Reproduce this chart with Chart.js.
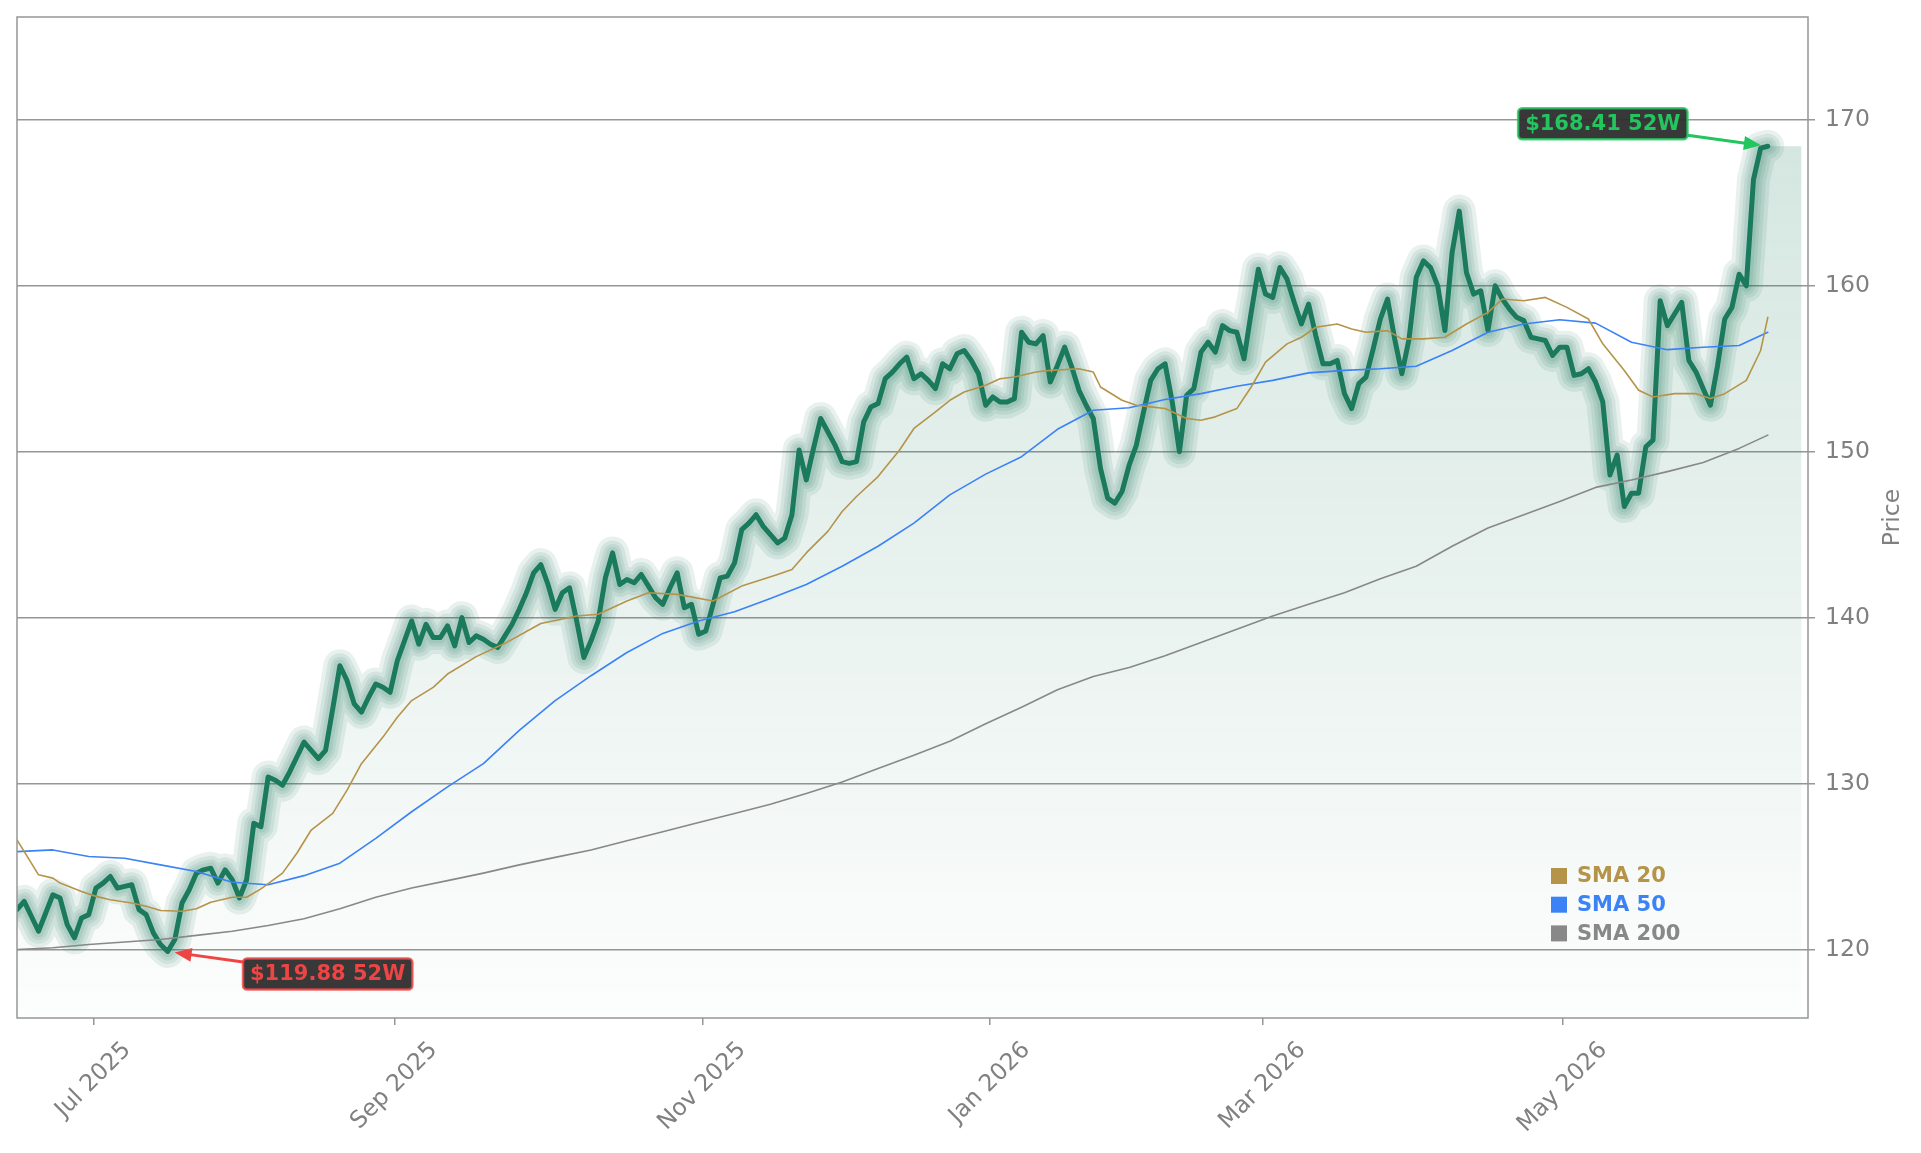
<!DOCTYPE html>
<html>
<head>
<meta charset="utf-8">
<script src="https://cdn.jsdelivr.net/npm/chart.js@4/dist/chart.umd.min.js"></script>
<style>
  html, body { margin: 0; padding: 0; background: #fff; }
  #wrap { width: 1921px; height: 1153px; position: relative; }
</style>
</head>
<body>
<div id="wrap"><canvas id="priceChart"></canvas></div>
<script>
// daily closes, one per trading day
const priceClose = [
    122.4, 122.9, 122.0, 121.1, 122.2, 123.3, 123.1, 121.5, 120.7, 121.9,
    122.1, 123.7, 124.0, 124.4, 123.7, 123.8, 123.9, 122.4, 122.1, 121.0,
    120.3, 119.88, 120.6, 122.8, 123.6, 124.6, 124.8, 124.9, 124.0, 124.8,
    124.2, 123.1, 124.2, 127.6, 127.4, 130.4, 130.2, 129.9, 130.7, 131.6,
    132.5, 132.0, 131.5, 132.0, 134.5, 137.1, 136.2, 134.8, 134.3, 135.2,
    136.0, 135.8, 135.5, 137.4, 138.6, 139.8, 138.4, 139.6, 138.8, 138.8,
    139.5, 138.3, 140.0, 138.5, 138.9, 138.7, 138.4, 138.2, 138.9, 139.6,
    140.5, 141.5, 142.7, 143.2, 142.0, 140.5, 141.5, 141.8, 139.8, 137.6,
    138.6, 139.8, 142.4, 143.9, 142.0, 142.3, 142.1, 142.6, 141.9, 141.2,
    140.8, 141.8, 142.7, 140.6, 140.8, 139.0, 139.2, 140.8, 142.4, 142.5,
    143.3, 145.3, 145.7, 146.2, 145.5, 145.0, 144.5, 144.8, 146.2, 150.1,
    148.3, 150.2, 152.0, 151.2, 150.4, 149.4, 149.3, 149.4, 151.8, 152.7,
    152.9, 154.4, 154.8, 155.3, 155.7, 154.4, 154.7, 154.3, 153.8, 155.3,
    155.0, 155.9, 156.1, 155.5, 154.7, 152.8, 153.3, 153.0, 153.0, 153.2,
    157.2, 156.6, 156.5, 157.0, 154.2, 155.2, 156.3, 155.1, 153.7, 152.8,
    152.0, 149.0, 147.2, 146.9, 147.6, 149.2, 150.4, 152.4, 154.3, 155.0,
    155.3, 153.0, 150.0, 153.4, 153.8, 156.0, 156.6, 156.0, 157.6, 157.3,
    157.2, 155.6, 158.4, 161.0, 159.5, 159.3, 161.1, 160.4, 159.0, 157.7,
    158.9, 157.0, 155.3, 155.3, 155.5, 153.5, 152.6, 154.1, 154.5, 156.2,
    158.0, 159.2, 156.8, 154.7, 156.8, 160.5, 161.5, 161.1, 160.0, 157.3,
    162.0, 164.5, 160.8, 159.5, 159.7, 157.3, 160.0, 159.2, 158.6, 158.1,
    157.9, 156.9, 156.8, 156.7, 155.8, 156.3, 156.3, 154.6, 154.7, 155.0,
    154.2, 153.0, 148.6, 149.8, 146.7, 147.5, 147.5, 150.3, 150.7, 159.1,
    157.6, 158.3, 159.0, 155.5, 154.8, 153.8, 152.8, 155.2, 158.0, 158.7,
    160.7, 160.0, 166.4, 168.3, 168.41
];

// SMA 20 read at the trading days where its bends are
const sma20Idx = [
    0, 2, 3, 5, 6, 9, 11, 13, 16, 18, 20, 23, 25, 27, 30, 32, 34, 37, 39, 41,
    44, 46, 48, 51, 53, 55, 58, 60, 64, 68, 73, 78, 81, 85, 88, 92, 97, 101, 106, 108,
    110, 113, 115, 117, 120, 123, 125, 128, 130, 132, 135, 137, 139, 142, 144, 148, 150, 151, 154, 156,
    158, 160, 163, 165, 167, 170, 172, 174, 177, 179, 181, 184, 186, 188, 191, 193, 196, 199, 202, 205,
    207, 210, 213, 216, 219, 221, 224, 226, 228, 231, 234, 236, 238, 241, 243, 244
];
const sma20 = [
    126.6, 125.2, 124.5, 124.3, 124.0, 123.5, 123.2, 123.0, 122.8, 122.6, 122.35, 122.3, 122.45, 122.85, 123.15, 123.15, 123.65, 124.6, 125.8, 127.2,
    128.2, 129.6, 131.2, 132.8, 134.0, 135.0, 135.8, 136.6, 137.65, 138.45, 139.65, 140.1, 140.2, 141.0, 141.5, 141.4, 141.0, 141.9, 142.6, 142.9,
    143.9, 145.2, 146.4, 147.3, 148.5, 150.1, 151.4, 152.4, 153.1, 153.6, 154.0, 154.4, 154.5, 154.8, 154.9, 155.0, 154.8, 153.9, 153.1, 152.8,
    152.7, 152.6, 152.0, 151.9, 152.1, 152.6, 153.9, 155.4, 156.5, 156.9, 157.5, 157.7, 157.4, 157.2, 157.3, 156.8, 156.8, 156.9, 157.7, 158.4,
    159.2, 159.1, 159.3, 158.7, 158.0, 156.5, 154.9, 153.7, 153.3, 153.5, 153.5, 153.2, 153.5, 154.3, 156.1, 158.1
];

// SMA 50 and SMA 200 read every 5th trading day
const smaIdx = [
    0, 5, 10, 15, 20, 25, 30, 35, 40, 45, 50, 55, 60, 65, 70, 75, 80, 85, 90, 95,
    100, 105, 110, 115, 120, 125, 130, 135, 140, 145, 150, 155, 160, 165, 170, 175,
    180, 185, 190, 195, 200, 205, 210, 215, 220, 225, 230, 235, 240, 244
];
const sma50 = [
    125.9, 126.0, 125.6, 125.5, 125.1, 124.7, 124.05, 123.9, 124.45, 125.2,
    126.7, 128.3, 129.8, 131.2, 133.2, 135.0, 136.5, 137.9, 139.05, 139.8,
    140.35, 141.15, 142.0, 143.1, 144.3, 145.7, 147.4, 148.65, 149.7, 151.35,
    152.5, 152.65, 153.15, 153.5, 153.95, 154.3, 154.75, 154.9, 155.0, 155.15,
    156.1, 157.2, 157.7, 157.95, 157.75, 156.6, 156.15, 156.3, 156.4, 157.2
];
const sma200 = [
    120.0, 120.1, 120.3, 120.45, 120.6, 120.85, 121.1, 121.45, 121.85, 122.45,
    123.15, 123.7, 124.15, 124.6, 125.1, 125.55, 126.0, 126.55, 127.1, 127.65,
    128.2, 128.75, 129.4, 130.1, 130.9, 131.7, 132.55, 133.6, 134.6, 135.65,
    136.45, 137.0, 137.7, 138.5, 139.3, 140.1, 140.8, 141.5, 142.35, 143.1,
    144.3, 145.4, 146.2, 147.0, 147.85, 148.3, 148.8, 149.35, 150.2, 151.0
];

// month ticks, in trading-day units
const xTickLabels = ['Jul 2025', 'Sep 2025', 'Nov 2025', 'Jan 2026', 'Mar 2026', 'May 2026'];
const xTickAt = [10.65, 52.6, 95.5, 135.6, 173.6, 215.4];
const yTicks = [120, 130, 140, 150, 160, 170];
const xRange = [0, 249.6];
const yRange = [115.87, 176.2];
const fillEndAt = 248.7;

const GREEN = '#1b7a5c';
const GRID = '#969696';
const TEXT = '#808080';
const FONT = '"DejaVu Sans", sans-serif';

const pricePts = priceClose.map((v, i) => ({ x: i, y: v }));
const fillPts = pricePts.concat([{ x: fillEndAt, y: priceClose[priceClose.length - 1] }]);
const puntos = (idx, arr) => idx.map((xi, k) => ({ x: xi, y: arr[k] }));

function gradiente(ctx) {
    const a = ctx.chart.chartArea;
    if (!a) return 'rgba(27,122,92,0.1)';
    const g = ctx.chart.ctx.createLinearGradient(0, a.top, 0, a.bottom);
    g.addColorStop(0, 'rgba(27,122,92,0.21)');
    g.addColorStop(1, 'rgba(27,122,92,0.01)');
    return g;
}

function linea(label, data, color, width, order) {
    return {
        label: label, data: data, borderColor: color, borderWidth: width,
        pointRadius: 0, fill: false, tension: 0, order: order,
        borderJoinStyle: 'round', borderCapStyle: 'round'
    };
}

const glowWidths = [33, 25, 18, 12];
const datasets = [{
    label: 'fill', data: fillPts, borderWidth: 0, pointRadius: 0,
    fill: 'start', backgroundColor: gradiente, order: 30
}];
glowWidths.forEach((w, k) => {
    datasets.push(linea('glow' + k, pricePts, 'rgba(27,122,92,0.1)', w, 25 - k));
});
datasets.push(linea('Price', pricePts, GREEN, 5, 10));
datasets.push(linea('SMA 200', puntos(smaIdx, sma200), '#888888', 1.6, 3));
datasets.push(linea('SMA 50', puntos(smaIdx, sma50), '#3b82f6', 1.6, 2));
datasets.push(linea('SMA 20', puntos(sma20Idx, sma20), '#b5944a', 1.6, 1));

function etiqueta(ctx, px, py, dx, dy, text, color) {
    ctx.font = 'bold 21px ' + FONT;
    const w = ctx.measureText(text).width + 14, h = 31;
    const cx = px + dx, cy = py + dy;
    const vx = px - cx, vy = py - cy, len = Math.hypot(vx, vy);
    const ux = vx / len, uy = vy / len;
    const t = Math.min((w / 2) / Math.abs(vx), (h / 2) / Math.abs(vy));
    const sx = cx + vx * t, sy = cy + vy * t;
    const ex = px - ux * 7, ey = py - uy * 7;

    ctx.strokeStyle = color;
    ctx.fillStyle = color;
    ctx.lineWidth = 3;
    ctx.beginPath();
    ctx.moveTo(sx, sy);
    ctx.lineTo(ex - ux * 12, ey - uy * 12);
    ctx.stroke();
    ctx.beginPath();
    ctx.moveTo(ex, ey);
    ctx.lineTo(ex - ux * 17 - uy * 7, ey - uy * 17 + ux * 7);
    ctx.lineTo(ex - ux * 17 + uy * 7, ey - uy * 17 - ux * 7);
    ctx.closePath();
    ctx.fill();

    ctx.beginPath();
    ctx.roundRect(cx - w / 2, cy - h / 2, w, h, 4);
    ctx.fillStyle = 'rgba(45,45,45,0.95)';
    ctx.fill();
    ctx.globalAlpha = 0.8;
    ctx.lineWidth = 2.5;
    ctx.strokeStyle = color;
    ctx.stroke();
    ctx.globalAlpha = 1;
    ctx.fillStyle = color;
    ctx.textAlign = 'center';
    ctx.textBaseline = 'middle';
    ctx.fillText(text, cx, cy + 1);
}

const extras = {
    id: 'extras',
    afterDraw(chart) {
        const { ctx, chartArea: a, scales: { x, y } } = chart;
        ctx.save();

        ctx.strokeStyle = GRID;
        ctx.lineWidth = 1.5;
        ctx.strokeRect(a.left, a.top, a.right - a.left, a.bottom - a.top);

        // rotated month labels, centred under each tick
        ctx.font = '23.5px ' + FONT;
        ctx.fillStyle = TEXT;
        ctx.textAlign = 'center';
        ctx.textBaseline = 'middle';
        xTickLabels.forEach((t, k) => {
            const px = x.getPixelForValue(xTickAt[k]);
            const w = ctx.measureText(t).width;
            const half = (w + 21) / Math.SQRT2 / 2;
            ctx.save();
            ctx.translate(px, a.bottom + 21 + half);
            ctx.rotate(-Math.PI / 4);
            ctx.fillText(t, 0, 0);
            ctx.restore();
        });

        ctx.save();
        ctx.translate(chart.width - 28, (a.top + a.bottom) / 2);
        ctx.rotate(-Math.PI / 2);
        ctx.fillText('Price', 0, 0);
        ctx.restore();

        // legend for the averages
        const smaSets = chart.data.datasets.filter(d => d.label.startsWith('SMA')).reverse();
        ctx.font = 'bold 21px ' + FONT;
        ctx.textAlign = 'left';
        smaSets.forEach((d, k) => {
            const ly = a.bottom - 142 + k * 28.7;
            ctx.fillStyle = d.borderColor;
            ctx.fillRect(a.right - 257, ly - 8, 16, 16);
            ctx.fillText(d.label, a.right - 231, ly + 1);
        });

        // 52 week high / low tags
        const hi = Math.max(...priceClose), lo = Math.min(...priceClose);
        const hiI = priceClose.indexOf(hi), loI = priceClose.indexOf(lo);
        etiqueta(ctx, x.getPixelForValue(hiI), y.getPixelForValue(hi), -165, -22.5,
            '$' + hi.toFixed(2) + ' 52W', '#22c55e');
        etiqueta(ctx, x.getPixelForValue(loI), y.getPixelForValue(lo), 160, 22.5,
            '$' + lo.toFixed(2) + ' 52W', '#ef4444');

        ctx.restore();
    }
};

const config = {
    type: 'line',
    data: { datasets: datasets },
    options: {
        responsive: true,
        maintainAspectRatio: false,
        animation: false,
        events: [],
        layout: { padding: { left: 17, top: 17, right: 0, bottom: 0 } },
        plugins: {
            legend: { display: false },
            tooltip: { enabled: false }
        },
        scales: {
            x: {
                type: 'linear',
                min: xRange[0],
                max: xRange[1],
                border: { display: false },
                grid: { drawOnChartArea: false, drawTicks: true, tickLength: 7, color: GRID, lineWidth: 1.5 },
                ticks: { display: false, autoSkip: false },
                afterBuildTicks: s => { s.ticks = xTickAt.map(v => ({ value: v })); },
                afterFit: s => { s.height = 135; s.paddingLeft = 0; s.paddingRight = 0; }
            },
            y: {
                type: 'linear',
                position: 'right',
                min: yRange[0],
                max: yRange[1],
                border: { display: false },
                grid: { color: GRID, lineWidth: 1.5, tickLength: 7, drawTicks: true },
                ticks: { color: TEXT, font: { size: 23.5, family: FONT }, padding: 10 },
                afterBuildTicks: s => { s.ticks = yTicks.map(v => ({ value: v })); },
                afterFit: s => { s.width = 113; s.paddingTop = 0; s.paddingBottom = 0; }
            }
        }
    },
    plugins: [extras]
};

Chart.defaults.font.family = FONT;
const chart = new Chart(document.getElementById('priceChart').getContext('2d'), config);
</script>
</body>
</html>
